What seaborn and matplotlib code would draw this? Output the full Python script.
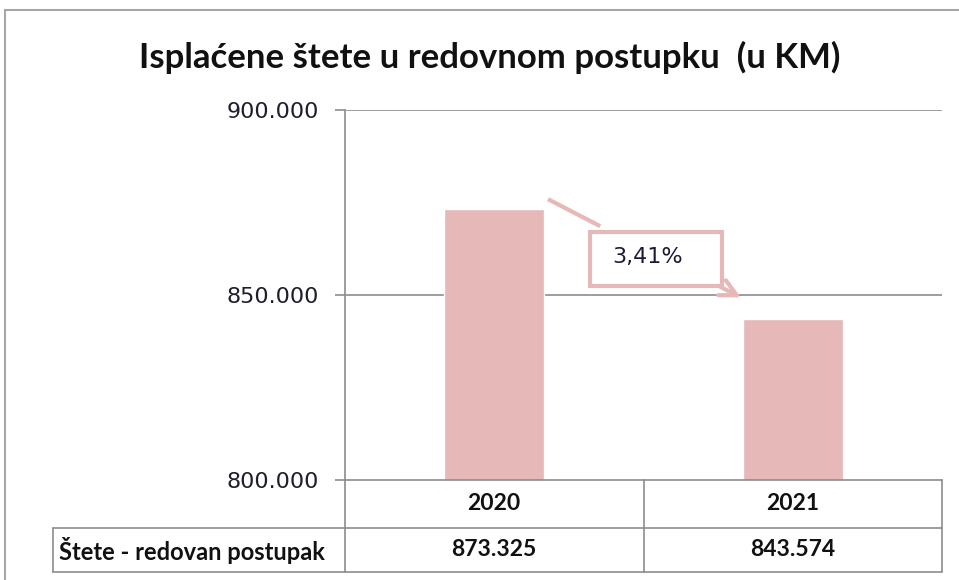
import matplotlib
matplotlib.use("Agg")
import matplotlib.pyplot as plt
import matplotlib.transforms as mtransforms
from matplotlib.patches import Rectangle
from matplotlib.lines import Line2D
import pandas as pd
import seaborn as sns

# Podaci
godine = ["2020", "2021"]
iznosi = [873325, 843574]
naziv_serije = "Štete - redovan postupak"
naslov = "Isplaćene štete u redovnom postupku  (u KM)"
promjena = "3,41%"
y_ticks = [800000, 850000, 900000]

bar_color = "#E6B8B7"
grid_color = "#8C8C8C"

sns.set_theme(style="white")
plt.rcParams["font.family"] = ["DejaVu Sans"]

fig = plt.figure(figsize=(9.59, 5.80), dpi=100)
W, H = 959, 580

# glavna osa (pikseli -> udjeli figure)
ax = fig.add_axes([345 / W, (H - 480) / H, 597 / W, 370 / H])

df = pd.DataFrame({"Godina": godine, "Iznos": iznosi})
sns.barplot(data=df, x="Godina", y="Iznos", color=bar_color, width=0.335,
            saturation=1, ax=ax, zorder=2)

ax.set_ylim(y_ticks[0], y_ticks[-1])
ax.set_xlim(-0.5, len(godine) - 0.5)
ax.set_yticks(y_ticks)
ax.set_yticklabels([f"{v:,}".replace(",", ".") for v in y_ticks],
                   fontsize=16, color="#1e1e2a")
ax.set_xticks([])
ax.set_xlabel("")
ax.set_ylabel("")
ax.tick_params(axis="y", length=7.5, width=1.2, color=grid_color, pad=11, left=True)
for v in y_ticks[1:]:
    ax.axhline(v, color=grid_color, lw=1.2, zorder=1)
for s in ["top", "right"]:
    ax.spines[s].set_visible(False)
ax.spines["left"].set_color(grid_color)
ax.spines["left"].set_linewidth(1.2)
ax.spines["bottom"].set_color(grid_color)
ax.spines["bottom"].set_linewidth(1.2)

# anotacija promjene
ax.plot([0.18, 0.355], [875900, 868600], color=bar_color, lw=3,
        solid_capstyle="butt", zorder=3)
ax.add_patch(Rectangle((0.32, 852400), 0.442, 14600, fill=True, facecolor="white",
                       edgecolor=bar_color, lw=3, zorder=4))
ax.text(0.513, 860300, promjena, ha="center", va="center", fontsize=16,
        color="#1a1a33", zorder=5)
ax.annotate("", xy=(0.835, 849000), xytext=(0.75, 852500),
            arrowprops=dict(arrowstyle="->,head_length=1.0,head_width=0.5",
                            color=bar_color, lw=3), zorder=3)

# tablica ispod osi
trans = mtransforms.blended_transform_factory(ax.transData, fig.transFigure)
y_top = (H - 480) / H
y_mid = (H - 528) / H
y_bot = (H - 572) / H
x_lbl = -0.5 - 292 / 298.5
tcol = grid_color
tlines = [
    ([x_lbl, 1.5], [y_mid, y_mid]),
    ([x_lbl, 1.5], [y_bot, y_bot]),
    ([x_lbl, x_lbl], [y_mid, y_bot]),
    ([-0.5, -0.5], [y_top, y_bot]),
    ([0.5, 0.5], [y_top, y_bot]),
    ([1.5, 1.5], [y_top, y_bot]),
]
for xs, ys in tlines:
    fig.add_artist(Line2D(xs, ys, transform=trans, color=tcol, lw=1.2))

tfont = ["Lato", "DejaVu Sans"]
for i, (g, v) in enumerate(zip(godine, iznosi)):
    fig.text(i, (y_top + y_mid) / 2, g, transform=trans, ha="center", va="center",
             fontsize=16.5, fontweight="bold", family=tfont, color="#111111")
    fig.text(i, (y_mid + y_bot) / 2, f"{v:,}".replace(",", "."), transform=trans,
             ha="center", va="center", fontsize=16.5, fontweight="bold",
             family=tfont, color="#111111")
fig.text(x_lbl + 0.02, (y_mid + y_bot) / 2, naziv_serije, transform=trans,
         ha="left", va="center", fontsize=17, fontweight="bold", family=tfont,
         color="#111111")

# naslov
fig.text(490 / W, (H - 57) / H, naslov, ha="center", va="center", fontsize=25,
         fontweight="bold", family=tfont, color="#111111")

# vanjski okvir
okvir = "#A6A6A6"
fig.add_artist(Line2D([5 / W, 5 / W], [0, (H - 10) / H], transform=fig.transFigure,
                      color=okvir, lw=1.5))
fig.add_artist(Line2D([5 / W, 1], [(H - 10) / H, (H - 10) / H],
                      transform=fig.transFigure, color=okvir, lw=1.5))

fig.savefig("out.png", dpi=100, facecolor="white")
